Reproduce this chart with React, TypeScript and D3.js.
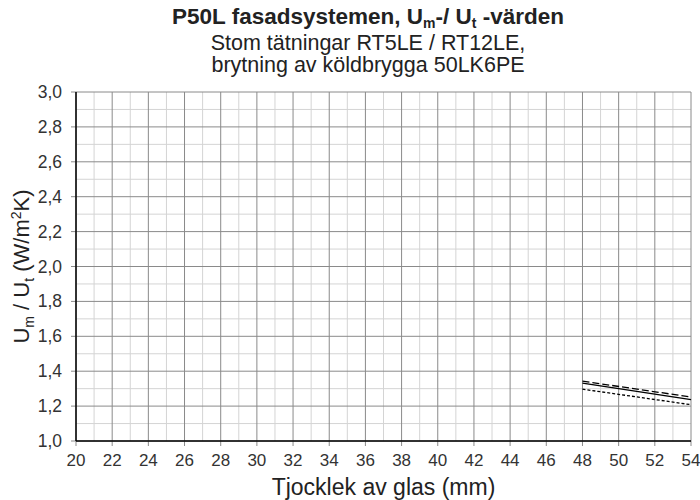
import React, { useRef, useEffect } from 'react';
import * as d3 from 'd3';

// glass thickness (mm) and U-values
const thickness = [48, 54];
const seriesLongDash = [1.343, 1.252];
const seriesSolid = [1.332, 1.237];
const seriesShortDash = [1.297, 1.208];

const xTicks = d3.range(20, 55, 2);
const yTicks = d3.range(1.0, 3.01, 0.2);
const xMinor = d3.range(21, 54, 2);
const yMinor = d3.range(1.1, 3.0, 0.2);

const series = [
  { values: seriesLongDash, dash: '7,3' },
  { values: seriesSolid, dash: null },
  { values: seriesShortDash, dash: '3,2' },
];

const App = () => {
  const ref = useRef<SVGSVGElement>(null);

  useEffect(() => {
    const width = 700;
    const height = 500;
    const margin = { top: 92, right: 9, bottom: 59, left: 76 };
    const font = '"Liberation Sans", Arial, sans-serif';

    const svg = d3.select(ref.current);
    svg.selectAll('*').remove();

    const x = d3.scaleLinear().domain([20, 54]).range([margin.left, width - margin.right]);
    const y = d3.scaleLinear().domain([1.0, 3.0]).range([height - margin.bottom, margin.top]);

    const g = svg.append('g');

    // minor grid
    g.selectAll('.xminor')
      .data(xMinor)
      .join('line')
      .attr('x1', d => x(d)).attr('x2', d => x(d))
      .attr('y1', y(1)).attr('y2', y(3))
      .attr('stroke', '#d4d4d4').attr('stroke-width', 1);
    g.selectAll('.yminor')
      .data(yMinor)
      .join('line')
      .attr('x1', x(20)).attr('x2', x(54))
      .attr('y1', d => y(d)).attr('y2', d => y(d))
      .attr('stroke', '#d4d4d4').attr('stroke-width', 1);

    // major grid
    g.selectAll('.xmajor')
      .data(xTicks)
      .join('line')
      .attr('x1', d => x(d)).attr('x2', d => x(d))
      .attr('y1', y(1)).attr('y2', y(3))
      .attr('stroke', '#8a8a8a').attr('stroke-width', 1);
    g.selectAll('.ymajor')
      .data(yTicks)
      .join('line')
      .attr('x1', x(20)).attr('x2', x(54))
      .attr('y1', d => y(d)).attr('y2', d => y(d))
      .attr('stroke', '#8a8a8a').attr('stroke-width', 1);

    // tick marks
    g.selectAll('.xtick')
      .data(xTicks)
      .join('line')
      .attr('x1', d => x(d)).attr('x2', d => x(d))
      .attr('y1', y(1)).attr('y2', y(1) + 5)
      .attr('stroke', '#8a8a8a');
    g.selectAll('.ytick')
      .data(yTicks)
      .join('line')
      .attr('x1', x(20) - 5).attr('x2', x(20))
      .attr('y1', d => y(d)).attr('y2', d => y(d))
      .attr('stroke', '#8a8a8a');

    // axes lines
    g.append('line')
      .attr('x1', x(20)).attr('x2', x(20)).attr('y1', y(1)).attr('y2', y(3))
      .attr('stroke', '#000').attr('stroke-width', 1.5);
    g.append('line')
      .attr('x1', x(20)).attr('x2', x(54)).attr('y1', y(1)).attr('y2', y(1))
      .attr('stroke', '#000').attr('stroke-width', 1.5);

    // tick labels
    g.selectAll('.xlabel')
      .data(xTicks)
      .join('text')
      .attr('x', d => x(d)).attr('y', y(1) + 25)
      .attr('text-anchor', 'middle')
      .attr('font-family', font).attr('font-size', 17).attr('fill', '#333')
      .text(d => String(d));
    g.selectAll('.ylabel')
      .data(yTicks)
      .join('text')
      .attr('x', x(20) - 14).attr('y', d => y(d) + 6)
      .attr('text-anchor', 'end')
      .attr('font-family', font).attr('font-size', 17.5).attr('fill', '#333')
      .text(d => d.toFixed(1).replace('.', ','));

    // lines
    const line = d3.line<number>()
      .x((d, i) => x(thickness[i]))
      .y(d => y(d));
    series.forEach(s => {
      g.append('path')
        .datum(s.values)
        .attr('fill', 'none')
        .attr('stroke', '#000')
        .attr('stroke-width', 1.3)
        .attr('stroke-dasharray', s.dash)
        .attr('d', line);
    });

    // title
    const cx = (x(20) + x(54)) / 2;
    const tx = 368;
    const title = svg.append('text')
      .attr('x', tx).attr('y', 24)
      .attr('text-anchor', 'middle')
      .attr('font-family', font).attr('font-size', 22.5).attr('font-weight', 'bold').attr('fill', '#222');
    title.append('tspan').text('P50L fasadsystemen, U');
    title.append('tspan').attr('font-size', 14).attr('dy', 4).text('m');
    title.append('tspan').attr('dy', -4).text('-/ U');
    title.append('tspan').attr('font-size', 14).attr('dy', 4).text('t');
    title.append('tspan').attr('dy', -4).text(' -värden');

    svg.append('text')
      .attr('x', tx).attr('y', 50)
      .attr('text-anchor', 'middle')
      .attr('font-family', font).attr('font-size', 21.5).attr('fill', '#222')
      .text('Stom tätningar RT5LE / RT12LE,');
    svg.append('text')
      .attr('x', tx).attr('y', 72)
      .attr('text-anchor', 'middle')
      .attr('font-family', font).attr('font-size', 21.5).attr('fill', '#222')
      .text('brytning av köldbrygga 50LK6PE');

    // x axis title
    svg.append('text')
      .attr('x', cx).attr('y', 495)
      .attr('text-anchor', 'middle')
      .attr('font-family', font).attr('font-size', 23).attr('fill', '#222')
      .text('Tjocklek av glas (mm)');

    // y axis title
    const yt = svg.append('text')
      .attr('transform', `translate(29,${(y(1) + y(3)) / 2}) rotate(-90)`)
      .attr('text-anchor', 'middle')
      .attr('font-family', font).attr('font-size', 22).attr('fill', '#222');
    yt.append('tspan').text('U');
    yt.append('tspan').attr('font-size', 14).attr('dy', 5).text('m');
    yt.append('tspan').attr('dy', -5).text(' / U');
    yt.append('tspan').attr('font-size', 14).attr('dy', 5).text('t');
    yt.append('tspan').attr('dy', -5).text(' (W/m');
    yt.append('tspan').attr('font-size', 14).attr('dy', -8).text('2');
    yt.append('tspan').attr('dy', 8).text('K)');
  }, []);

  return (
    <svg
      ref={ref}
      width={700}
      height={500}
      style={{ position: 'absolute', left: 0, top: 0, background: '#fff' }}
    />
  );
};

export default App;
